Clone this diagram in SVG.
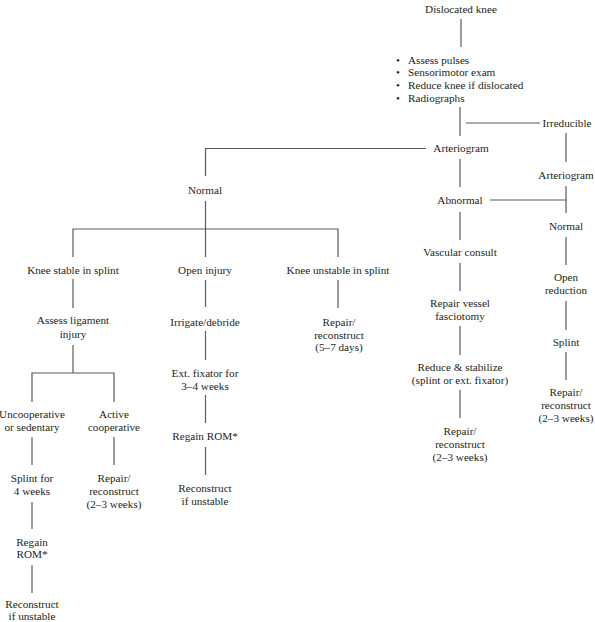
<svg xmlns="http://www.w3.org/2000/svg" width="595" height="622" viewBox="0 0 595 622">
<style>
text{font-family:"Liberation Serif","Times New Roman",serif;font-size:11.2px;fill:#231f20;text-anchor:middle}
.l{text-anchor:start}
#connectors path,#connectors line{stroke:#5a5a5a;stroke-width:1.2;fill:none}
</style>
<rect width="595" height="622" fill="#ffffff"/>
<g id="connectors">
<line x1="461" y1="19" x2="461" y2="47"/>
<line x1="460" y1="107" x2="460" y2="136"/>
<line x1="466" y1="123" x2="540" y2="123"/>
<line x1="566" y1="133" x2="566" y2="162"/>
<path d="M426,148.5H205.5V176"/>
<line x1="460" y1="159" x2="460" y2="187"/>
<line x1="490" y1="200" x2="566" y2="200"/>
<line x1="566" y1="186" x2="566" y2="213"/>
<line x1="205.5" y1="201" x2="205.5" y2="257"/>
<path d="M73,257V229H338V257"/>
<line x1="73" y1="279" x2="73" y2="308"/>
<line x1="205.5" y1="280" x2="205.5" y2="307"/>
<line x1="338" y1="280" x2="338" y2="308"/>
<line x1="460" y1="212" x2="460" y2="240"/>
<line x1="460" y1="263" x2="460" y2="291"/>
<line x1="566" y1="237" x2="566" y2="265"/>
<line x1="566" y1="301" x2="566" y2="330"/>
<line x1="566" y1="352" x2="566" y2="380"/>
<line x1="460" y1="326" x2="460" y2="355"/>
<line x1="460" y1="390" x2="460" y2="418"/>
<line x1="73" y1="345" x2="73" y2="373"/>
<path d="M32,402V373H114V402"/>
<line x1="205.5" y1="331" x2="205.5" y2="360"/>
<line x1="205.5" y1="395" x2="205.5" y2="423"/>
<line x1="205.5" y1="447" x2="205.5" y2="475"/>
<line x1="32" y1="437" x2="32" y2="465"/>
<line x1="114" y1="437" x2="114" y2="465"/>
<line x1="32" y1="502" x2="32" y2="529"/>
<line x1="32" y1="565" x2="32" y2="593"/>
</g>
<g id="n1"><text x="461" y="13">Dislocated knee</text></g>
<g id="n2">
<text class="l" x="396" y="63.5">•</text><text class="l" x="408" y="63.5">Assess pulses</text>
<text class="l" x="396" y="76.3">•</text><text class="l" x="408" y="76.3">Sensorimotor exam</text>
<text class="l" x="396" y="89">•</text><text class="l" x="408" y="89">Reduce knee if dislocated</text>
<text class="l" x="396" y="101.7">•</text><text class="l" x="408" y="101.7">Radiographs</text>
</g>
<g id="n3"><text x="567" y="127">Irreducible</text></g>
<g id="n4"><text x="461" y="152">Arteriogram</text></g>
<g id="n5"><text x="566" y="179">Arteriogram</text></g>
<g id="n6"><text x="205" y="194">Normal</text></g>
<g id="n7"><text x="460" y="204">Abnormal</text></g>
<g id="n8"><text x="566" y="230">Normal</text></g>
<g id="n9"><text x="73" y="274">Knee stable in splint</text></g>
<g id="n10"><text x="205" y="274">Open injury</text></g>
<g id="n11"><text x="338" y="274">Knee unstable in splint</text></g>
<g id="n12"><text x="460" y="256">Vascular consult</text></g>
<g id="n13"><text x="566" y="281">Open</text><text x="566" y="294">reduction</text></g>
<g id="n14"><text x="73" y="324">Assess ligament</text><text x="73" y="338">injury</text></g>
<g id="n15"><text x="205" y="326">Irrigate/debride</text></g>
<g id="n16"><text x="339" y="326">Repair/</text><text x="339" y="338.5">reconstruct</text><text x="339" y="351">(5–7 days)</text></g>
<g id="n17"><text x="460" y="307">Repair vessel</text><text x="460" y="320">fasciotomy</text></g>
<g id="n18"><text x="566" y="346">Splint</text></g>
<g id="n19"><text x="460" y="371">Reduce &amp; stabilize</text><text x="460" y="384">(splint or ext. fixator)</text></g>
<g id="n20"><text x="205" y="377">Ext. fixator for</text><text x="205" y="390">3–4 weeks</text></g>
<g id="n21"><text x="566" y="396">Repair/</text><text x="566" y="409">reconstruct</text><text x="566" y="422">(2–3 weeks)</text></g>
<g id="n22"><text x="32" y="418">Uncooperative</text><text x="32" y="431">or sedentary</text></g>
<g id="n23"><text x="114" y="418">Active</text><text x="114" y="431">cooperative</text></g>
<g id="n24"><text x="205" y="440">Regain ROM*</text></g>
<g id="n25"><text x="460" y="435">Repair/</text><text x="460" y="448">reconstruct</text><text x="460" y="461">(2–3 weeks)</text></g>
<g id="n26"><text x="32" y="482">Splint for</text><text x="32" y="495">4 weeks</text></g>
<g id="n27"><text x="114" y="482">Repair/</text><text x="114" y="495">reconstruct</text><text x="114" y="508">(2–3 weeks)</text></g>
<g id="n28"><text x="205" y="492">Reconstruct</text><text x="205" y="505">if unstable</text></g>
<g id="n29"><text x="32" y="546">Regain</text><text x="32" y="558">ROM*</text></g>
<g id="n30"><text x="32" y="608">Reconstruct</text><text x="32" y="620">if unstable</text></g>
</svg>
